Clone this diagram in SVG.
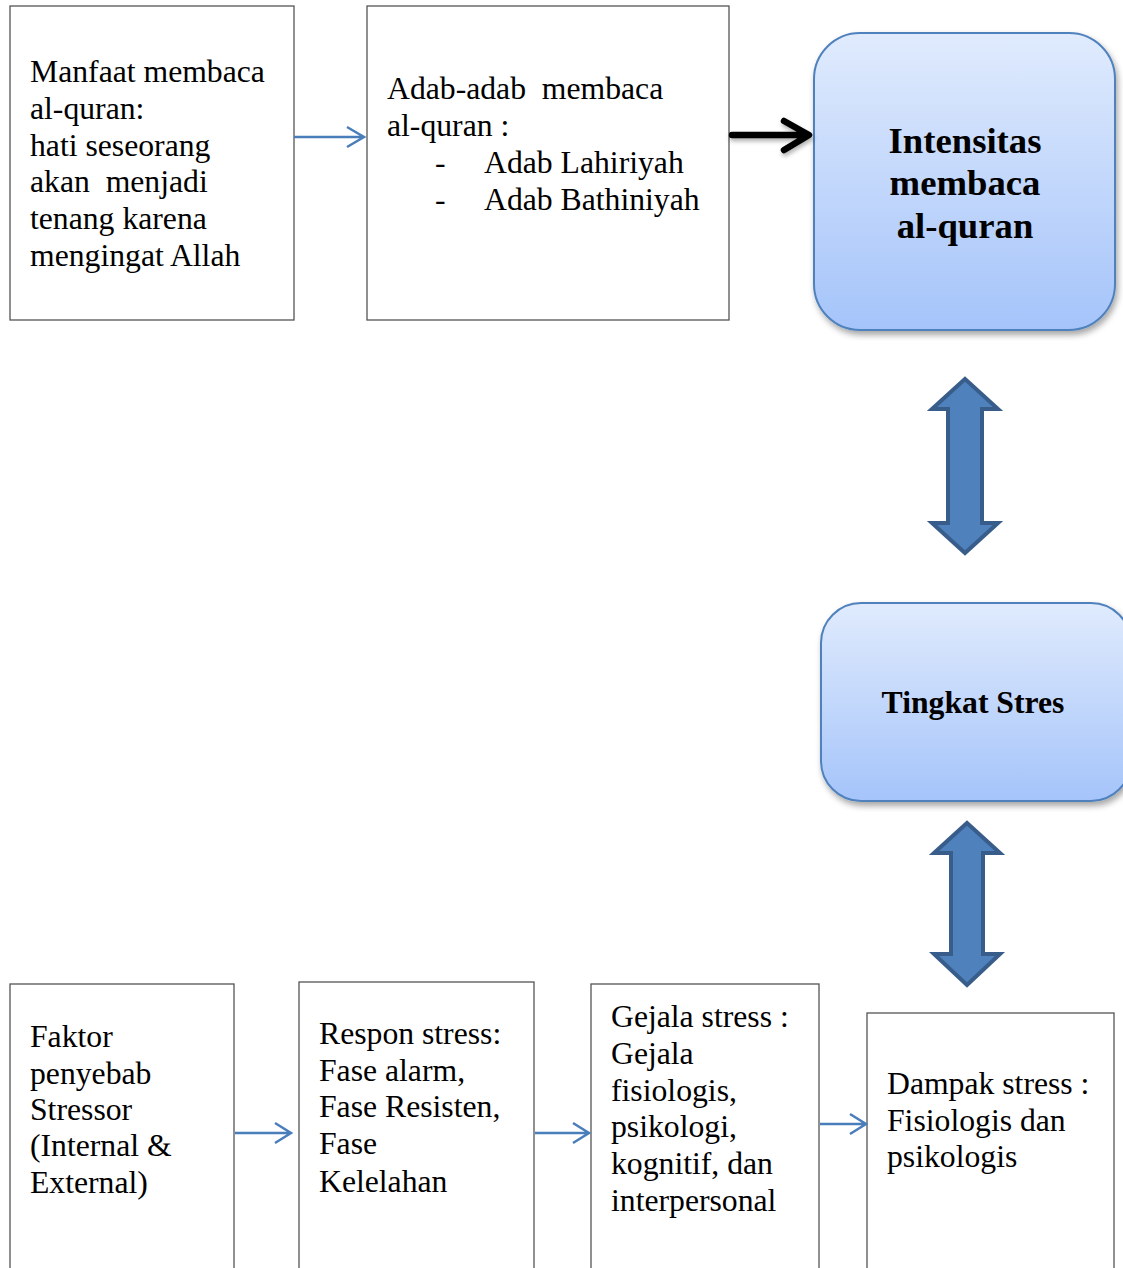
<svg xmlns="http://www.w3.org/2000/svg" width="1123" height="1268" viewBox="0 0 1123 1268">
<style>
.box{fill:#fff;stroke:#555;stroke-width:1.3}
.t{font-family:"Liberation Serif","Times New Roman",serif;font-size:31.7px;fill:#000}
.b{font-family:"Liberation Serif","Times New Roman",serif;font-weight:bold;fill:#000;text-anchor:middle}
.rb{fill:url(#g);stroke:#4f81bd;stroke-width:2;filter:url(#sh)}
.blue{stroke:#4a7ebb;stroke-width:2.5;fill:none}
.darr{fill:#4f81bd;stroke:#385d8a;stroke-width:4;stroke-linejoin:miter}
</style>
<defs>
<linearGradient id="g" x1="0" y1="0" x2="0" y2="1">
<stop offset="0" stop-color="#e0ebfd"/>
<stop offset="1" stop-color="#a5c4fa"/>
</linearGradient>
<filter id="sh" x="-10%" y="-10%" width="130%" height="130%">
<feDropShadow dx="2" dy="4" stdDeviation="3" flood-color="#000" flood-opacity="0.35"/>
</filter>
<filter id="sh2" x="-10%" y="-50%" width="130%" height="250%">
<feDropShadow dx="1" dy="3" stdDeviation="2" flood-color="#000" flood-opacity="0.3"/>
</filter>
<marker id="ah" markerWidth="12" markerHeight="12" refX="10" refY="6" orient="auto" markerUnits="userSpaceOnUse"/>
</defs>

<g id="manfaat">
<rect class="box" x="10" y="6" width="284" height="314"/>
<text class="t" x="30" y="82">Manfaat membaca</text>
<text class="t" x="30" y="119">al-quran:</text>
<text class="t" x="30" y="156">hati seseorang</text>
<text class="t" x="30" y="192" xml:space="preserve">akan  menjadi</text>
<text class="t" x="30" y="229">tenang karena</text>
<text class="t" x="30" y="266">mengingat Allah</text>
</g>

<g id="adab">
<rect class="box" x="367" y="6" width="362" height="314"/>
<text class="t" x="387" y="99" xml:space="preserve">Adab-adab  membaca</text>
<text class="t" x="387" y="136">al-quran :</text>
<text class="t" x="435" y="173">-</text>
<text class="t" x="484" y="173">Adab Lahiriyah</text>
<text class="t" x="435" y="210">-</text>
<text class="t" x="484" y="210">Adab Bathiniyah</text>
</g>

<g id="intensitas">
<rect class="rb" x="814" y="33" width="301" height="297" rx="46" ry="46"/>
<text class="b" x="965" y="153" font-size="36.7">Intensitas</text>
<text class="b" x="965" y="195" font-size="36.7">membaca</text>
<text class="b" x="965" y="238" font-size="36.7">al-quran</text>
</g>

<g id="tingkat">
<rect class="rb" x="821" y="603" width="310" height="198" rx="40" ry="40"/>
<text class="b" x="973" y="713" font-size="31.7">Tingkat Stres</text>
</g>

<g id="faktor">
<rect class="box" x="10" y="984" width="224" height="320"/>
<text class="t" x="30" y="1047">Faktor</text>
<text class="t" x="30" y="1084">penyebab</text>
<text class="t" x="30" y="1120">Stressor</text>
<text class="t" x="30" y="1156">(Internal &amp;</text>
<text class="t" x="30" y="1193">External)</text>
</g>

<g id="respon">
<rect class="box" x="299" y="982" width="235" height="320"/>
<text class="t" x="319" y="1044">Respon stress:</text>
<text class="t" x="319" y="1081">Fase alarm,</text>
<text class="t" x="319" y="1117">Fase Resisten,</text>
<text class="t" x="319" y="1154">Fase</text>
<text class="t" x="319" y="1192">Kelelahan</text>
</g>

<g id="gejala">
<rect class="box" x="591" y="984" width="228" height="320"/>
<text class="t" x="611" y="1027">Gejala stress :</text>
<text class="t" x="611" y="1064">Gejala</text>
<text class="t" x="611" y="1101">fisiologis,</text>
<text class="t" x="611" y="1137">psikologi,</text>
<text class="t" x="611" y="1174">kognitif, dan</text>
<text class="t" x="611" y="1211">interpersonal</text>
</g>

<g id="dampak">
<rect class="box" x="867" y="1013" width="247" height="300"/>
<text class="t" x="887" y="1094">Dampak stress :</text>
<text class="t" x="887" y="1131">Fisiologis dan</text>
<text class="t" x="887" y="1167">psikologis</text>
</g>

<g id="connectors">
<path class="blue" d="M294 137 H364 M347 127 L364 137 L347 147"/>
<g filter="url(#sh2)">
<path d="M732 135 H806 M784 121 L809 135 L784 150" fill="none" stroke="#000" stroke-width="6.5" stroke-linecap="round" stroke-linejoin="round"/>
</g>
<polygon class="darr" points="965,379 998,409 982,409 982,523 998,523 965,553 932,523 948,523 948,409 932,409"/>
<polygon class="darr" points="967,823 1000,853 983,853 983,954 1000,954 967,985 934,954 951,954 951,853 934,853"/>
<path class="blue" d="M235 1133 H291 M275 1123 L291 1133 L275 1143"/>
<path class="blue" d="M535 1133 H589 M573 1123 L589 1133 L573 1143"/>
<path class="blue" d="M820 1124 H866 M850 1114 L866 1124 L850 1134"/>
</g>
</svg>
